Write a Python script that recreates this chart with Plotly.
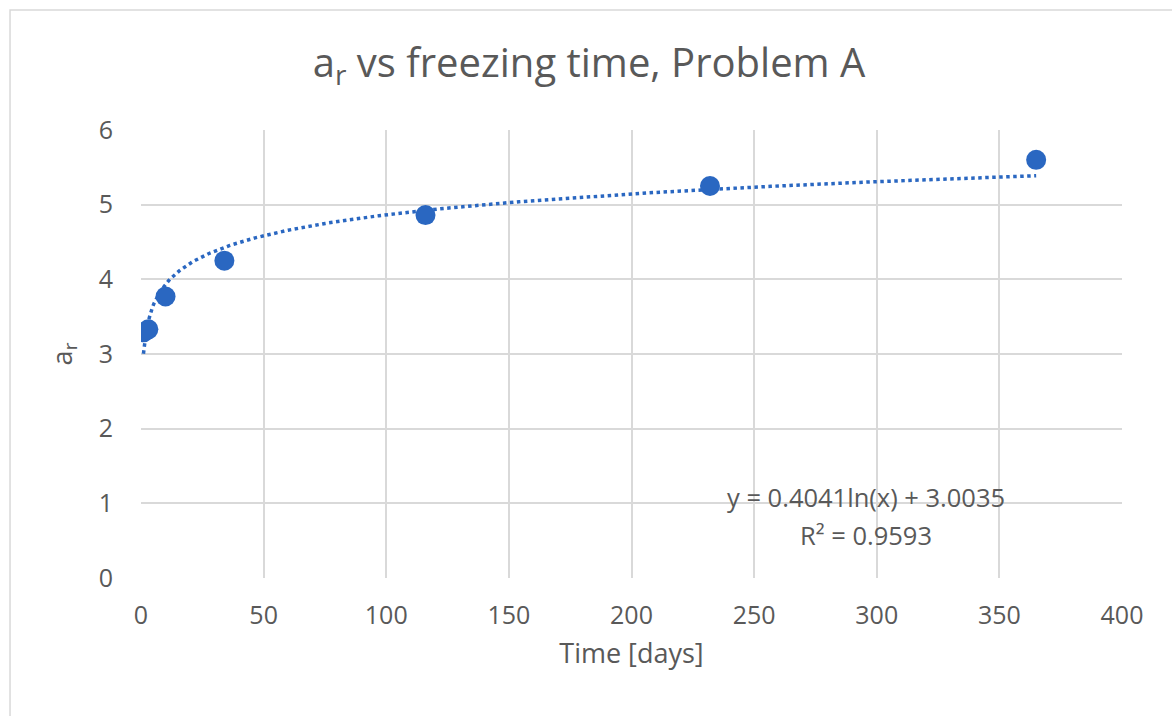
import numpy as np
import plotly.graph_objects as go

# Data
time_days = [1, 3, 10, 34, 116, 232, 365]
a_r = [3.29, 3.33, 3.77, 4.25, 4.86, 5.25, 5.60]

# Logarithmic trendline coefficients printed on the chart
trend_slope = 0.4041
trend_intercept = 3.0035
equation_text = "y = 0.4041ln(x) + 3.0035"
r2_text = "R² = 0.9593"

x_ticks = [0, 50, 100, 150, 200, 250, 300, 350, 400]
y_ticks = [0, 1, 2, 3, 4, 5, 6]

FONT = "'Open Sans', Lato, sans-serif"
TEXT = "#595959"
GRID = "#d9d9d9"
BLUE = "#2a67c1"

trend_x = np.linspace(min(time_days), max(time_days), 600)
trend_y = trend_slope * np.log(trend_x) + trend_intercept

fig = go.Figure()
fig.add_trace(go.Scatter(
    x=trend_x, y=trend_y, mode="lines",
    line=dict(color=BLUE, width=3.5, dash="dot"),
    hoverinfo="skip", showlegend=False,
))
fig.add_trace(go.Scatter(
    x=time_days, y=a_r, mode="markers",
    marker=dict(color=BLUE, size=20),
    showlegend=False,
))

fig.add_annotation(x=295.6, y=1.08, xref="x", yref="y", text=equation_text,
                   showarrow=False, font=dict(family=FONT, size=25.5, color=TEXT))
fig.add_annotation(x=295.6, y=0.57, xref="x", yref="y", text=r2_text,
                   showarrow=False, font=dict(family=FONT, size=25.5, color=TEXT))

# Outer chart border
fig.add_shape(type="rect", xref="paper", yref="paper",
              x0=-0.1335, x1=1.2, y0=-0.4, y1=1.268,
              line=dict(color=GRID, width=1.5), fillcolor="rgba(0,0,0,0)", layer="below")

fig.update_layout(
    width=1172, height=716,
    margin=dict(l=141, r=50, t=130, b=138),
    paper_bgcolor="white", plot_bgcolor="white",
    font=dict(family=FONT, color=TEXT),
    title=dict(text="a<sub>r</sub> vs freezing time, Problem A",
               x=0.5026, xanchor="center", y=0.912, yanchor="middle",
               font=dict(family=FONT, size=40, color=TEXT)),
)
fig.update_xaxes(
    range=[0, 400], tickvals=x_ticks, showgrid=True, gridcolor=GRID, gridwidth=2,
    zeroline=False, showline=False, ticks="outside", ticklen=15,
    tickcolor="rgba(0,0,0,0)", tickfont=dict(family=FONT, size=25, color=TEXT),
    title=dict(text="Time [days]", font=dict(family=FONT, size=27, color=TEXT), standoff=14),
)
fig.update_yaxes(
    range=[0, 6], tickvals=y_ticks, showgrid=True, gridcolor=GRID, gridwidth=2,
    zeroline=False, showline=False, ticks="outside", ticklen=22,
    tickcolor="rgba(0,0,0,0)", tickfont=dict(family=FONT, size=25, color=TEXT),
    title=dict(text="a<sub>r</sub>", font=dict(family=FONT, size=27, color=TEXT), standoff=18),
)

fig.write_html("out.html", config={"displayModeBar": False},
               post_script="document.body.style.margin='0';document.body.style.overflow='hidden';")
